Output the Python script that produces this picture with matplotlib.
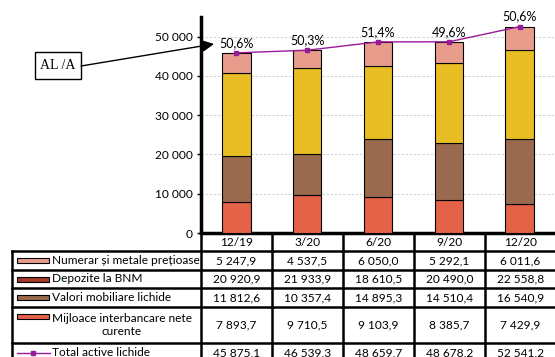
import matplotlib.pyplot as plt
from matplotlib.patches import Rectangle
from matplotlib.lines import Line2D

# data
periods = ["12/19", "3/20", "6/20", "9/20", "12/20"]
numerar = [5247.9, 4537.5, 6050.0, 5292.1, 6011.6]
depozite = [20920.9, 21933.9, 18610.5, 20490.0, 22558.8]
valori = [11812.6, 10357.4, 14895.3, 14510.4, 16540.9]
mijloace = [7893.7, 9710.5, 9103.9, 8385.7, 7429.9]
total = [45875.1, 46539.3, 48659.7, 48678.2, 52541.2]
al_a = [50.6, 50.3, 51.4, 49.6, 50.6]

names = ["Numerar și metale prețioase", "Depozite la BNM", "Valori mobiliare lichide",
         "Mijloace interbancare nete\ncurente", "Total active lichide"]

c_num = "#E89C8C"
c_dep = "#E9BE24"
c_dep_key = "#A33A2A"
c_val = "#9A6A4F"
c_mij = "#E46348"
c_line = "#9A1A9A"

plt.rcParams['font.family'] = ['Lato', 'DejaVu Sans']
fs = 8.6

W, H = 555, 357
fig = plt.figure(figsize=(W / 100, H / 100), dpi=100)

# main chart area in pixels: x 201..555, y 17..233
ax = fig.add_axes([201 / W, 1 - 233 / H, (W - 201) / W, 216 / H])
x = list(range(len(periods)))
bw = 0.4
kw = dict(width=bw, edgecolor="black", linewidth=0.8, zorder=3)
b0 = [0] * 5
b1 = [a + b for a, b in zip(b0, mijloace)]
b2 = [a + b for a, b in zip(b1, valori)]
b3 = [a + b for a, b in zip(b2, depozite)]
ax.bar(x, mijloace, bottom=b0, color=c_mij, **kw)
ax.bar(x, valori, bottom=b1, color=c_val, **kw)
ax.bar(x, depozite, bottom=b2, color=c_dep, **kw)
ax.bar(x, numerar, bottom=b3, color=c_num, **kw)
ax.plot(x, total, color=c_line, lw=1, marker="s", ms=3, zorder=4)
for xi, t, p in zip(x, total, al_a):
    ax.annotate(f"{p:.1f}%".replace(".", ","), (xi, t), xytext=(0, 3),
                textcoords="offset points", ha="center", va="bottom", fontsize=9)

ax.set_xlim(-0.5, 4.5)
ax.set_ylim(0, 55000)
ax.set_yticks(range(0, 50001, 10000))
ax.set_yticklabels([f"{v:,}".replace(",", " ") for v in range(0, 50001, 10000)], fontsize=fs)
ax.set_xticks([])
ax.grid(axis="y", color="#cccccc", lw=0.6, ls=(0, (3, 2)), zorder=0)
for s in ["top", "right"]:
    ax.spines[s].set_visible(False)
ax.spines["left"].set_linewidth(2.5)
ax.spines["bottom"].set_linewidth(2.5)
ax.tick_params(axis="y", length=3, width=1, pad=3)

# overlay in pixel coordinates for the table and the note
ov = fig.add_axes([0, 0, 1, 1])
ov.set_xlim(0, W)
ov.set_ylim(H, 0)
ov.axis("off")

col_x = [201 + i * 71 for i in range(6)]
rows_y = [251, 270, 288, 307, 343, 362]
lw = 1.8

# header row
for i, per in enumerate(periods):
    ov.text((col_x[i] + col_x[i + 1]) / 2, 242, per, ha="center", va="center", fontsize=fs)
for cx in col_x:
    ov.plot([cx, cx], [233, 362], color="black", lw=lw)
ov.plot([12, 12], [251, 362], color="black", lw=lw)
for ry in rows_y:
    ov.plot([12, 560], [ry, ry], color="black", lw=lw)

fmt = lambda v: f"{v:,.1f}".replace(",", " ").replace(".", ",")
series = [numerar, depozite, valori, mijloace, total]
keys = [c_num, c_dep_key, c_val, c_mij, None]
for r in range(5):
    yc = (rows_y[r] + rows_y[r + 1]) / 2
    ky = yc if r != 3 else rows_y[r] + 9
    if keys[r]:
        ov.add_patch(Rectangle((17, ky - 2.5), 32, 5, facecolor=keys[r], edgecolor="black", lw=0.8))
    else:
        ov.add_line(Line2D([17, 33, 50], [yc, yc, yc], color=c_line, lw=1, marker="s", ms=2.5,
                           markevery=[1]))
    ov.text(51.5, yc, names[r], ha="left", va="center", fontsize=fs, multialignment="center")
    for i, v in enumerate(series[r]):
        ov.text((col_x[i] + col_x[i + 1]) / 2, yc, fmt(v), ha="center", va="center", fontsize=fs)

# AL/A note with arrow
ov.add_patch(Rectangle((35, 52), 46, 27, facecolor="white", edgecolor="black", lw=1))
ov.text(58, 65.5, "AL /A", ha="center", va="center", fontsize=10,
        family=["Liberation Serif", "DejaVu Serif"])
ov.annotate("", xy=(214, 44), xytext=(81, 66),
            arrowprops=dict(arrowstyle="-|>,head_length=0.7,head_width=0.35", color="black", lw=1,
                            shrinkA=0, shrinkB=0))

fig.savefig("out.png", dpi=100)
